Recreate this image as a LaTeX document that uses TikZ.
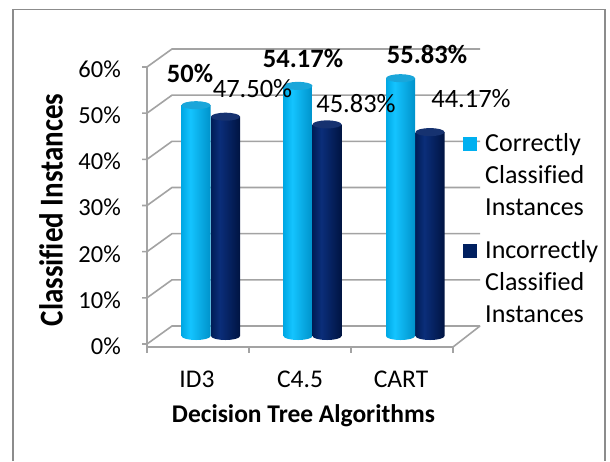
\documentclass[tikz,border=0pt]{standalone}
\usepackage{fontspec}
\setmainfont{Carlito}[Ligatures=NoCommon]
\definecolor{gridgray}{HTML}{A3A3A3}
\definecolor{framegray}{HTML}{8C8C8C}
\definecolor{lbA}{HTML}{00A8E4}
\definecolor{lbB}{HTML}{14C4FF}
\definecolor{lbC}{HTML}{0092CA}
\definecolor{lbTop}{HTML}{1AA6DA}
\definecolor{dbA}{HTML}{001D57}
\definecolor{dbB}{HTML}{0B2E7A}
\definecolor{dbC}{HTML}{001442}
\definecolor{dbTop}{HTML}{163270}
\definecolor{lightsq}{HTML}{00B0F0}
\definecolor{darksq}{HTML}{002060}
\pgfdeclarehorizontalshading{lightcyl}{100bp}{color(0bp)=(lbA); color(25bp)=(lbA); color(40bp)=(lbB); color(75bp)=(lbC); color(100bp)=(lbC)}
\pgfdeclarehorizontalshading{darkcyl}{100bp}{color(0bp)=(dbA); color(25bp)=(dbA); color(40bp)=(dbB); color(75bp)=(dbC); color(100bp)=(dbC)}
\newcommand{\mycyl}[4]{%
  \shade[shading=#3] (#1-14.5,#2) -- (#1-14.5,336) arc[start angle=180, end angle=0, x radius=14.5, y radius=4] -- (#1+14.5,#2) -- cycle;
  \fill[#4] (#1,#2) ellipse[x radius=14.5, y radius=4];
}
\begin{document}
\begin{tikzpicture}[x=1pt,y=-1pt,
  gridline/.style={draw=gridgray, line width=1.6pt},
  ticklab/.style={anchor=base east, inner sep=0pt, font=\fontsize{24.5}{29}\selectfont},
  catlab/.style={anchor=base, inner sep=0pt, font=\fontsize{25.5}{30}\selectfont},
  vallab/.style={anchor=base, inner sep=0pt, font=\fontsize{26.5}{31}\selectfont},
  boldval/.style={vallab, font=\fontsize{26.5}{31}\selectfont\bfseries},
  leglab/.style={anchor=base west, inner sep=0pt, font=\fontsize{26}{31}\selectfont},
  titlelab/.style={anchor=base, inner sep=0pt, font=\fontsize{25.5}{30}\selectfont\bfseries}]
\useasboundingbox (0,0) rectangle (610,461);
\fill[white] (0,0) rectangle (610,461);
\draw[framegray, line width=1.3pt] (13,461) -- (13,9.5) -- (605,9.5) -- (605,461);
% grid: back wall and side wall
\foreach \k in {0,...,6}{
  \pgfmathsetmacro{\yf}{344-46.17*\k}
  \draw[gridline] (142,\yf) -- (147,\yf) -- (172,\yf-18) -- (480,\yf-18);
}
% front axis and floor
\draw[gridline] (147,67) -- (147,353);
\draw[gridline] (147,347) -- (453,347) -- (480,326);
\foreach \x in {249,351,453}{
  \draw[gridline] (\x,347) -- (\x,353);
}
% bars
\mycyl{225.5}{116.7}{darkcyl}{dbTop}
\mycyl{196}{105.2}{lightcyl}{lbTop}
\mycyl{327}{124.4}{darkcyl}{dbTop}
\mycyl{298}{85.9}{lightcyl}{lbTop}
\mycyl{430}{132.1}{darkcyl}{dbTop}
\mycyl{400.5}{78.2}{lightcyl}{lbTop}
% value labels
\node[boldval] (v1) at (190,82) {50\%};
\node[vallab] (w1) at (252.5,97) {47.50\%};
\node[boldval] (v2) at (303,67) {54.17\%};
\node[vallab] (w2) at (356,112) {45.83\%};
\node[boldval] (v3) at (427,63) {55.83\%};
\node[vallab] (w3) at (471,107) {44.17\%};
% y tick labels
\node[ticklab] (t6) at (121,77) {60\%};
\node[ticklab] (t5) at (121,123.3) {50\%};
\node[ticklab] (t4) at (121,169.6) {40\%};
\node[ticklab] (t3) at (121,215.9) {30\%};
\node[ticklab] (t2) at (121,262.2) {20\%};
\node[ticklab] (t1) at (121,308.5) {10\%};
\node[ticklab] (t0) at (121,354.8) {0\%};
% category labels
\node[catlab] (c1) at (197,387) {ID3};
\node[catlab] (c2) at (300,387) {C4.5};
\node[catlab] (c3) at (401,387) {CART};
% axis titles
\node[titlelab] (xt) at (303.5,422) {Decision Tree Algorithms};
\node[anchor=base, inner sep=0pt, rotate=90, font=\fontsize{29}{34}\selectfont\bfseries] (yt) at (62.5,210) {\scalebox{1}[1.15]{Classified Instances}};
% legend
\fill[lightsq] (463,137) rectangle (477,151);
\fill[darksq] (463,244) rectangle (477,258);
\node[leglab] (l1) at (485,151) {Correctly};
\node[leglab] (l2) at (485,183) {Classified};
\node[leglab] (l3) at (485,215) {Instances};
\node[leglab] (l4) at (485,258) {Incorrectly};
\node[leglab] (l5) at (485,290) {Classified};
\node[leglab] (l6) at (485,322) {Instances};
\end{tikzpicture}
\end{document}
